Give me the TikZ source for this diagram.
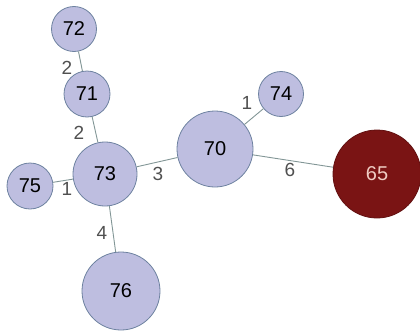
\documentclass[tikz,border=0pt]{standalone}
\usepackage{fontspec}
\setmainfont{Liberation Sans}
\definecolor{nodefill}{RGB}{190,190,224}
\definecolor{nodeline}{RGB}{110,130,160}
\definecolor{redfill}{RGB}{122,20,20}
\definecolor{redtext}{RGB}{240,205,195}
\definecolor{edgecol}{RGB}{130,150,150}
\definecolor{labcol}{RGB}{80,80,80}
\begin{document}
\begin{tikzpicture}[x=1pt,y=-1pt,
  vnode/.style={circle,draw=nodeline,line width=0.8pt,fill=nodefill,inner sep=0pt,font=\fontsize{20}{20}\selectfont},
  rnode/.style={vnode,fill=redfill,draw=redfill!80!black,text=redtext},
  edge/.style={draw=edgecol,line width=0.9pt},
  elab/.style={text=labcol,font=\fontsize{19}{19}\selectfont,inner sep=0pt}]
\useasboundingbox (0,0) rectangle (420,332);
\node[vnode,minimum size=45pt] (n72) at (74,29) {72};
\node[vnode,minimum size=46pt] (n71) at (87,94) {71};
\node[vnode,minimum size=64pt] (n73) at (105,174) {73};
\node[vnode,minimum size=46pt] (n75) at (30,186) {75};
\node[vnode,minimum size=78pt] (n76) at (121,291) {76};
\node[vnode,minimum size=76pt] (n70) at (215,149) {70};
\node[vnode,minimum size=45pt] (n74) at (281,94) {74};
\node[rnode,minimum size=88pt] (n65) at (377,174) {65};
\path[edge] (n72) -- (n71);
\path[edge] (n71) -- (n73);
\path[edge] (n75) -- (n73);
\path[edge] (n73) -- (n76);
\path[edge] (n73) -- (n70);
\path[edge] (n70) -- (n74);
\path[edge] (n70) -- (n65);
\node[elab] (l1) at (67,68) {2};
\node[elab] (l2) at (79,133) {2};
\node[elab] (l3) at (67,189) {1};
\node[elab] (l4) at (158,174) {3};
\node[elab] (l5) at (102,233) {4};
\node[elab] (l6) at (247,103) {1};
\node[elab] (l7) at (290,170) {6};
\end{tikzpicture}
\end{document}
